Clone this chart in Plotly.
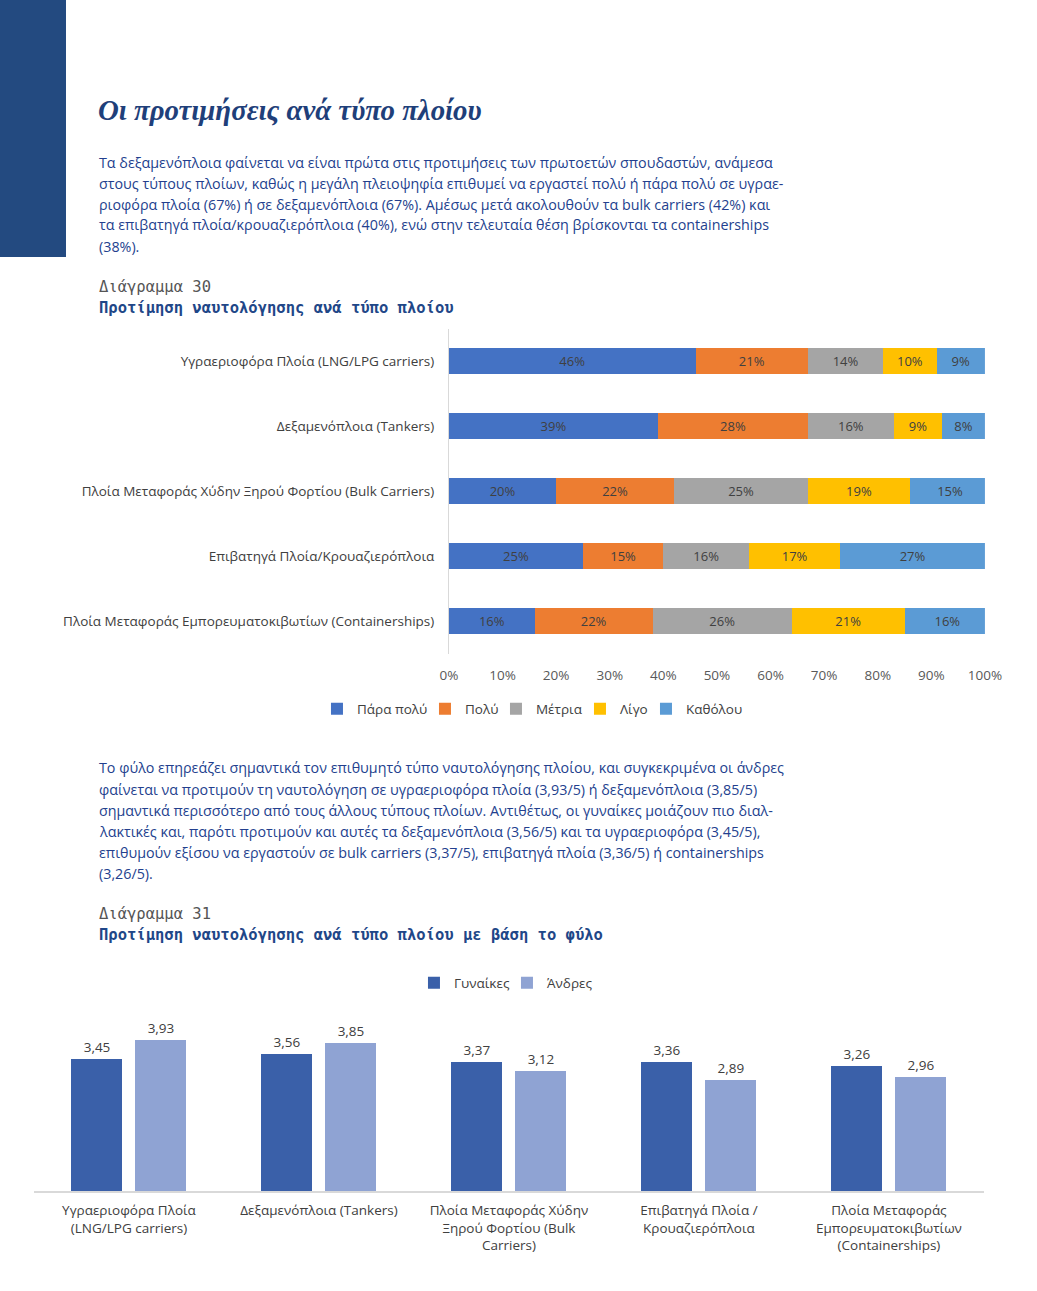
import plotly.graph_objects as go

W, H = 1037, 1291
# horizontal calibration of the rendered page (observed offset / scale of the viewer)
X_OFF, X_SCALE = 9.0, 0.975

def px(x):
    return (x - X_OFF) / (X_SCALE * W)

def py(y):
    return 1 - y / H

# ---------------- Data: chart 30 ----------------
ship_types_30 = [
    "Υγραεριοφόρα Πλοία (LNG/LPG carriers)",
    "Δεξαμενόπλοια (Tankers)",
    "Πλοία Μεταφοράς Χύδην Ξηρού Φορτίου (Bulk Carriers)",
    "Επιβατηγά Πλοία/Κρουαζιερόπλοια",
    "Πλοία Μεταφοράς Εμπορευματοκιβωτίων (Containerships)",
]
levels = ["Πάρα πολύ", "Πολύ", "Μέτρια", "Λίγο", "Καθόλου"]
para_poly = [46, 39, 20, 25, 16]
poly = [21, 28, 22, 15, 22]
metria = [14, 16, 25, 16, 26]
ligo = [10, 9, 19, 17, 21]
katholou = [9, 8, 15, 27, 16]
level_values = [para_poly, poly, metria, ligo, katholou]
level_colors = ["#4472c4", "#ed7d31", "#a5a5a5", "#ffc000", "#5b9bd5"]
pct_ticks = [0, 10, 20, 30, 40, 50, 60, 70, 80, 90, 100]
pct_tick_labels = ["0%", "10%", "20%", "30%", "40%", "50%", "60%", "70%", "80%", "90%", "100%"]

# ---------------- Data: chart 31 ----------------
ship_types_31 = [
    "Υγραεριοφόρα Πλοία<br>(LNG/LPG carriers)",
    "Δεξαμενόπλοια (Tankers)",
    "Πλοία Μεταφοράς Χύδην<br>Ξηρού Φορτίου (Bulk<br>Carriers)",
    "Επιβατηγά Πλοία /<br>Κρουαζιερόπλοια",
    "Πλοία Μεταφοράς<br>Εμπορευματοκιβωτίων<br>(Containerships)",
]
women = [3.45, 3.56, 3.37, 3.36, 3.26]
men = [3.93, 3.85, 3.12, 2.89, 2.96]
gender_names = ["Γυναίκες", "Άνδρες"]
gender_colors = ["#3a60a9", "#8fa3d3"]

# legend entry spacing (style, px)
legend30_widths = [63, 26, 39, 21, 60]
legend31_widths = [48, 52]

# ---------------- Text ----------------
title_text = "Οι προτιμήσεις ανά τύπο πλοίου"
para1 = [
    "Τα δεξαμενόπλοια φαίνεται να είναι πρώτα στις προτιμήσεις των πρωτοετών σπουδαστών, ανάμεσα",
    "στους τύπους πλοίων, καθώς η μεγάλη πλειοψηφία επιθυμεί να εργαστεί πολύ ή πάρα πολύ σε υγραε-",
    "ριοφόρα πλοία (67%) ή σε δεξαμενόπλοια (67%). Αμέσως μετά ακολουθούν τα bulk carriers (42%) και",
    "τα επιβατηγά πλοία/κρουαζιερόπλοια (40%), ενώ στην τελευταία θέση βρίσκονται τα containerships",
    "(38%).",
]
para2 = [
    "Το φύλο επηρεάζει σημαντικά τον επιθυμητό τύπο ναυτολόγησης πλοίου, και συγκεκριμένα οι άνδρες",
    "φαίνεται να προτιμούν τη ναυτολόγηση σε υγραεριοφόρα πλοία (3,93/5) ή δεξαμενόπλοια (3,85/5)",
    "σημαντικά περισσότερο από τους άλλους τύπους πλοίων. Αντιθέτως, οι γυναίκες μοιάζουν πιο διαλ-",
    "λακτικές και, παρότι προτιμούν και αυτές τα δεξαμενόπλοια (3,56/5) και τα υγραεριοφόρα (3,45/5),",
    "επιθυμούν εξίσου να εργαστούν σε bulk carriers (3,37/5), επιβατηγά πλοία (3,36/5) ή containerships",
    "(3,26/5).",
]
cap30 = ["Διάγραμμα 30", "Προτίμηση ναυτολόγησης ανά τύπο πλοίου"]
cap31 = ["Διάγραμμα 31", "Προτίμηση ναυτολόγησης ανά τύπο πλοίου με βάση το φύλο"]

BODY_FONT = "Open Sans"
CHART_FONT = "Open Sans"
MONO = "DejaVu Sans Mono"
TEXT_BLUE = "#233f8e"
DARK_GRAY = "#404040"

fig = go.Figure()

# chart 30 traces (stacked horizontal bars)
for name, vals, col, lw in zip(levels, level_values, level_colors, legend30_widths):
    fig.add_trace(go.Bar(
        y=ship_types_30, x=vals, name=name, orientation="h",
        marker=dict(color=col, line=dict(width=0)),
        text=[f"{v}%" for v in vals], texttemplate="%{text}", textposition="inside",
        insidetextanchor="middle", textangle=0,
        textfont=dict(family=CHART_FONT, size=13, color=DARK_GRAY),
        offsetgroup="stack30", width=0.4,
        hoverinfo="skip", legendwidth=lw,
        xaxis="x", yaxis="y", legend="legend",
    ))

# chart 31 traces (grouped vertical bars)
for name, vals, col, off, grp, lw in zip(gender_names, [women, men], gender_colors,
                                         [-0.3026, 0.0342], ["w", "m"], legend31_widths):
    fig.add_trace(go.Bar(
        x=ship_types_31, y=vals, name=name,
        marker=dict(color=col, line=dict(width=0)),
        texttemplate="%{y:.2f}", textposition="outside", cliponaxis=False,
        textfont=dict(family=CHART_FONT, size=13.5, color=DARK_GRAY),
        offsetgroup=grp, offset=off, width=0.2684,
        hoverinfo="skip", legendwidth=lw,
        xaxis="x2", yaxis="y2", legend="legend2",
    ))

annotations = []
annotations.append(dict(
    text="<b><i>" + title_text + "</i></b>", x=px(95.6), y=py(110),
    xref="paper", yref="paper", xanchor="left", yanchor="middle", showarrow=False,
    font=dict(family="Liberation Serif", size=28.8, color="#1f3f7a"),
))
for i, line in enumerate(para1):
    annotations.append(dict(
        text=line, x=px(96.6), y=py(162 + 21 * i), xref="paper", yref="paper",
        xanchor="left", yanchor="middle", showarrow=False,
        font=dict(family=BODY_FONT, size=14.3, color=TEXT_BLUE),
    ))
for i, line in enumerate(para2):
    annotations.append(dict(
        text=line, x=px(96.6), y=py(768 + 21 * i), xref="paper", yref="paper",
        xanchor="left", yanchor="middle", showarrow=False,
        font=dict(family=BODY_FONT, size=14.3, color=TEXT_BLUE),
    ))
for cap, y0 in ((cap30, 287), (cap31, 914)):
    annotations.append(dict(
        text=cap[0], x=px(96.6), y=py(y0), xref="paper", yref="paper",
        xanchor="left", yanchor="middle", showarrow=False,
        font=dict(family=MONO, size=15.5, color="#555555"),
    ))
    annotations.append(dict(
        text="<b>" + cap[1] + "</b>", x=px(96.6), y=py(y0 + 21), xref="paper", yref="paper",
        xanchor="left", yanchor="middle", showarrow=False,
        font=dict(family=MONO, size=15.5, color="#1f4788"),
    ))

fig.update_layout(
    width=W, height=H, autosize=False,
    margin=dict(l=0, r=0, t=0, b=0),
    paper_bgcolor="white", plot_bgcolor="white",
    separators=",.",
    barmode="stack",
    showlegend=True,
    hovermode=False,
    annotations=annotations,
    shapes=[dict(type="rect", xref="paper", yref="paper",
                 x0=-0.05, x1=px(66), y0=py(257), y1=1.01,
                 fillcolor="#234a80", line=dict(width=0), layer="below")],
    xaxis=dict(domain=[px(449), px(985)], anchor="y", range=[0, 100],
               tickmode="array", tickvals=pct_ticks, ticktext=pct_tick_labels,
               showgrid=False, zeroline=False,
               showline=False, ticks="", ticklabelstandoff=12,
               tickfont=dict(family=CHART_FONT, size=13.5, color="#595959")),
    yaxis=dict(domain=[py(653.5), py(328.5)], anchor="x", autorange="reversed",
               showgrid=False, zeroline=False, showline=True, linecolor="#d9d9d9",
               linewidth=1, ticks="", ticklabelstandoff=11,
               tickfont=dict(family=CHART_FONT, size=13.5, color=DARK_GRAY)),
    xaxis2=dict(domain=[px(34), px(984)], anchor="y2", showgrid=False, zeroline=False,
                showline=True, linecolor="#d9d9d9", linewidth=1.5, ticks="",
                ticklabelstandoff=6,
                tickfont=dict(family=CHART_FONT, size=13.5, color=DARK_GRAY)),
    yaxis2=dict(domain=[py(1191), py(999)], anchor="x2", range=[0, 5],
                visible=False, showgrid=False),
    legend=dict(orientation="h", x=px(317), y=py(709), xanchor="left", yanchor="middle",
                font=dict(family=CHART_FONT, size=13.5, color=DARK_GRAY),
                bgcolor="rgba(0,0,0,0)", traceorder="normal", itemwidth=30,
                borderwidth=0),
    legend2=dict(orientation="h", x=px(414), y=py(983), xanchor="left", yanchor="middle",
                 font=dict(family=CHART_FONT, size=13.5, color=DARK_GRAY),
                 bgcolor="rgba(0,0,0,0)", traceorder="normal", itemwidth=30,
                 borderwidth=0),
)

fig.write_html(
    "out.html",
    config={"responsive": False, "displayModeBar": False},
    post_script="document.body.style.margin='0';document.body.style.overflow='hidden';",
)
